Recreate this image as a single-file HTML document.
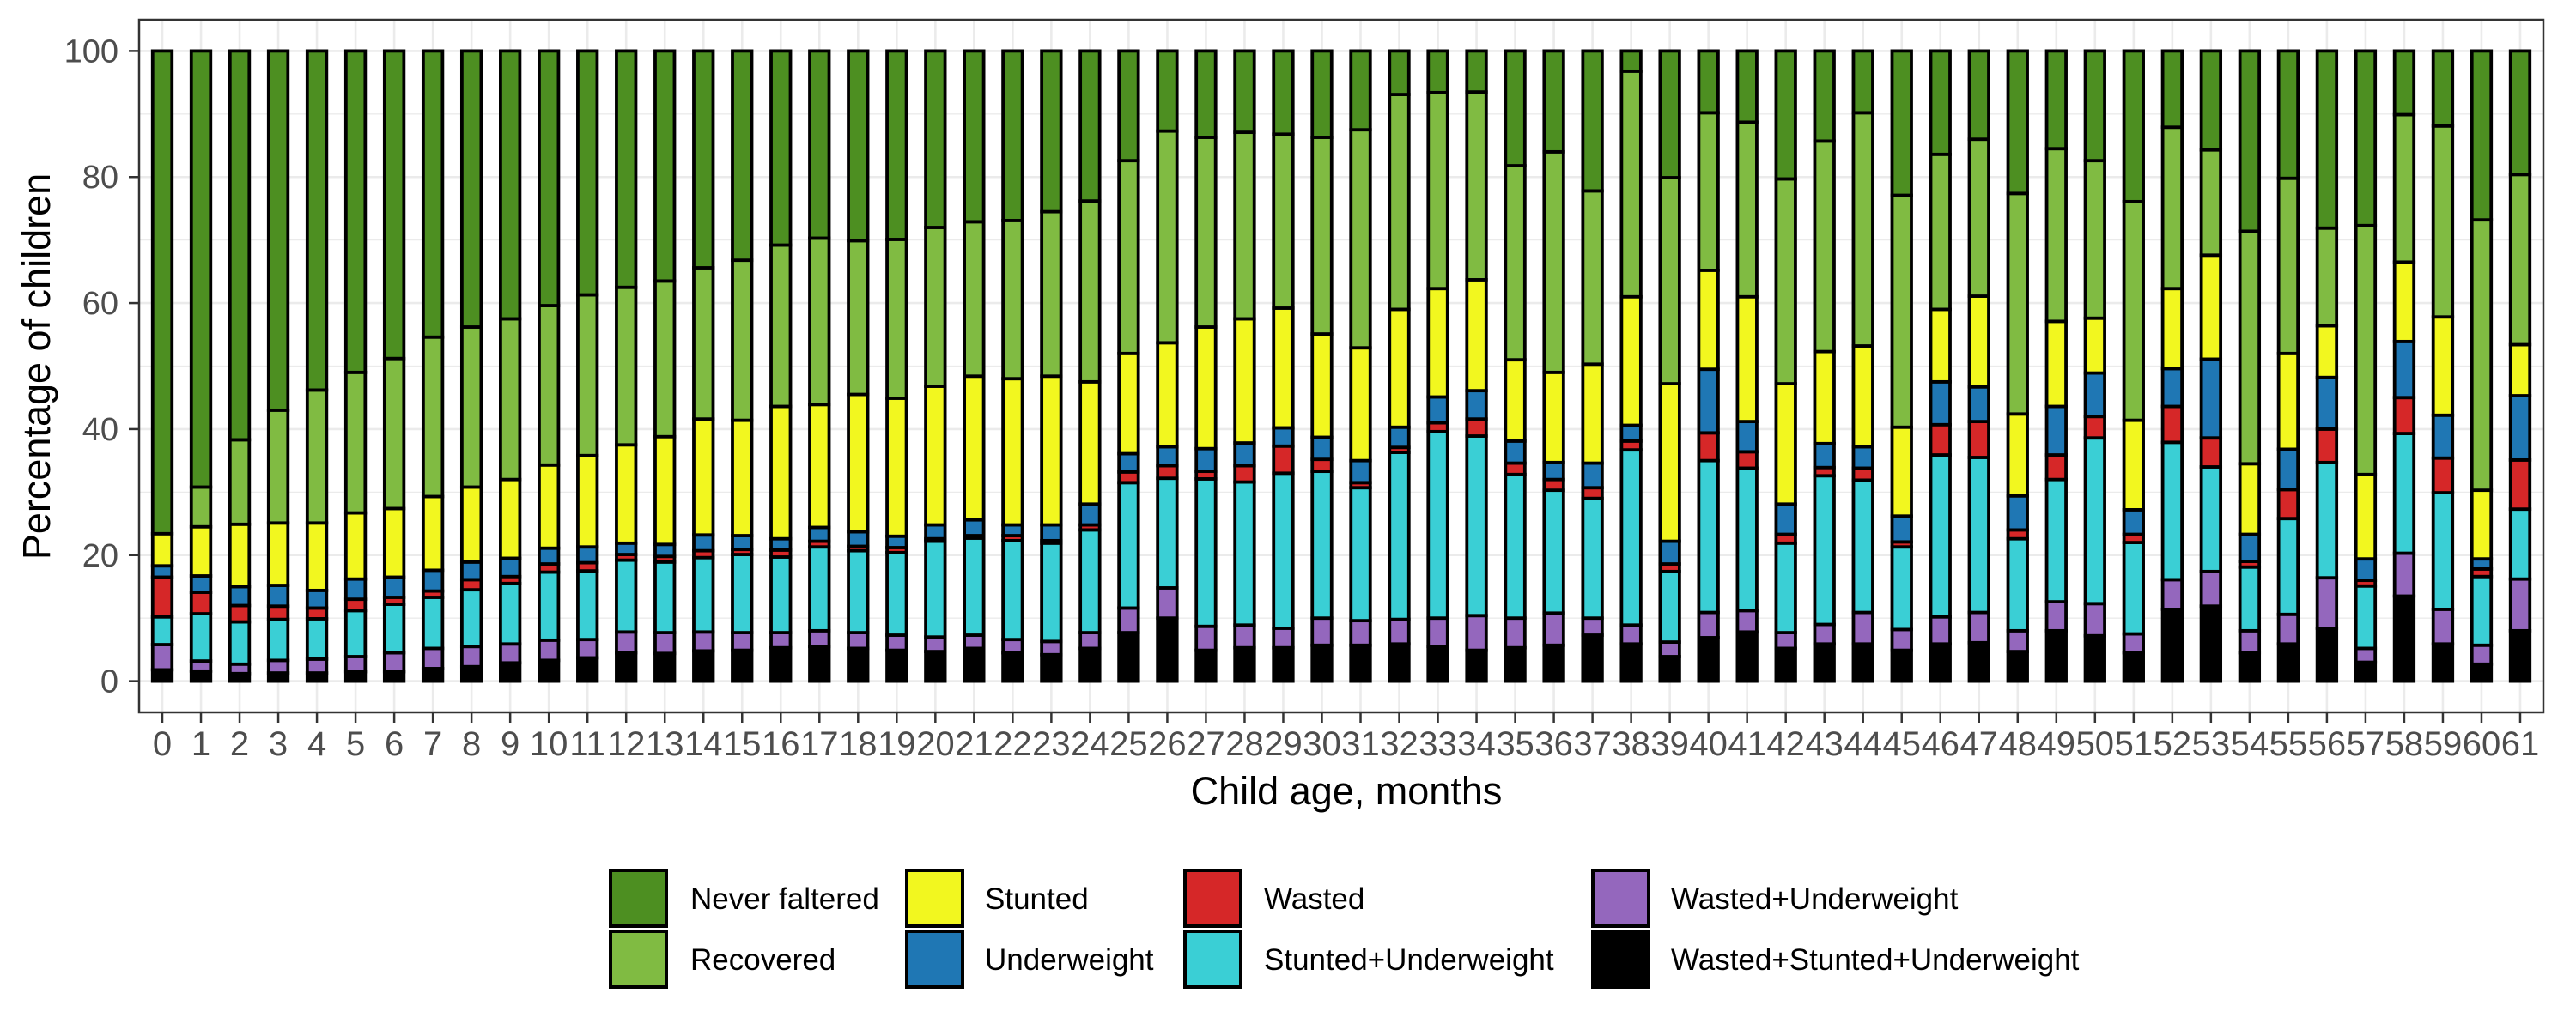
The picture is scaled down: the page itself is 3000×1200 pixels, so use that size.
<!DOCTYPE html>
<html><head><meta charset="utf-8"><title>Growth faltering by child age</title>
<style>
html,body{margin:0;padding:0;background:#fff;}
svg{display:block;font-family:"Liberation Sans",Arial,sans-serif;}
</style></head>
<body>
<svg id="chart" width="3000" height="1200" viewBox="0 0 3000 1200" xmlns="http://www.w3.org/2000/svg">
<rect x="0" y="0" width="3000" height="1200" fill="#fff"/>
<g id="grid"></g>
<g id="bars"></g>
<rect x="162" y="23" width="2800" height="807" fill="none" stroke="#333" stroke-width="2.5"/>
<g id="axes"></g>
<text x="0" y="0" transform="translate(58,427) rotate(-90)" text-anchor="middle" font-size="45" fill="#000">Percentage of children</text>
<text x="1568" y="937" text-anchor="middle" font-size="45" fill="#000">Child age, months</text>
<g id="legend"></g>
</svg>
<script>
const ages = Array.from({length:62},(_,i)=>String(i));
const yTicks = [0,20,40,60,80,100];
const seriesNames = ["Wasted+Stunted+Underweight","Wasted+Underweight","Stunted+Underweight","Wasted","Underweight","Stunted","Recovered","Never faltered"];
const seriesColors = ["#000000","#9467bd","#3acfd5","#d62728","#1f77b4","#f2f71f","#80bb42","#4d8f21"];
const wsu = [1.8,1.6,1.2,1.3,1.3,1.5,1.5,2.0,2.3,2.9,3.3,3.7,4.5,4.4,4.8,4.9,5.3,5.5,5.2,4.9,4.7,5.2,4.5,4.2,5.2,7.7,10.0,4.9,5.3,5.3,5.7,5.7,5.9,5.5,4.9,5.3,5.7,7.3,5.9,3.9,6.9,7.8,5.2,5.9,5.9,4.9,5.9,6.1,4.7,8.0,7.2,4.5,11.4,11.9,4.5,5.9,8.4,3.0,13.5,5.9,2.7,8.0];
const wu = [4.0,1.6,1.5,2.0,2.2,2.4,3.0,3.2,3.2,3.0,3.2,2.9,3.3,3.3,3.0,2.8,2.4,2.5,2.5,2.4,2.3,2.1,2.1,2.1,2.5,3.9,4.8,3.8,3.6,3.1,4.3,3.9,3.9,4.5,5.5,4.7,5.1,2.7,3.0,2.3,4.0,3.4,2.5,3.1,5.0,3.3,4.3,4.8,3.3,4.6,5.1,3.0,4.7,5.5,3.5,4.7,8.0,2.2,6.8,5.5,3.0,8.2];
const su = [4.4,7.5,6.7,6.5,6.4,7.3,7.7,8.1,9.0,9.6,10.8,10.9,11.4,11.2,11.8,12.4,12.0,13.3,13.0,13.1,15.2,15.4,15.7,15.6,16.3,19.9,17.4,23.4,22.7,24.6,23.3,21.1,26.5,29.6,28.5,22.8,19.5,19.0,27.8,11.2,24.1,22.6,14.2,23.6,21.0,13.1,25.7,24.6,14.6,19.4,26.3,14.5,21.8,16.6,10.1,15.2,18.3,9.9,19.0,18.5,10.9,11.1];
const wasted = [6.3,3.4,2.6,2.1,1.7,1.8,1.1,1.0,1.6,1.1,1.3,1.3,0.9,0.9,1.1,0.8,1.1,0.9,0.7,0.8,0.4,0.4,0.8,0.4,0.8,1.7,2.0,1.2,2.6,4.3,1.9,0.8,0.8,1.4,2.7,1.8,1.7,1.7,1.4,1.2,4.4,2.6,1.4,1.3,1.9,0.8,4.8,5.7,1.4,3.9,3.4,1.3,5.7,4.6,0.9,4.6,5.3,0.9,5.7,5.5,1.2,7.8];
const under = [1.8,2.6,3.0,3.3,2.8,3.2,3.2,3.3,2.8,2.9,2.5,2.5,1.8,1.9,2.5,2.2,1.8,2.2,2.3,1.8,2.2,2.5,1.7,2.5,3.3,2.9,3.0,3.6,3.6,2.9,3.5,3.5,3.2,4.1,4.5,3.5,2.7,3.9,2.5,3.6,10.1,4.8,4.8,3.8,3.4,4.1,6.8,5.5,5.4,7.7,6.9,3.9,6.0,12.5,4.3,6.4,8.2,3.4,8.9,6.8,1.6,10.2];
const stunted = [5.1,7.8,9.9,9.9,10.7,10.5,10.9,11.7,11.9,12.5,13.2,14.5,15.6,17.1,18.4,18.3,21.0,19.5,21.8,21.9,22.0,22.8,23.2,23.6,19.4,15.9,16.5,19.3,19.7,19.0,16.4,17.9,18.7,17.2,17.6,12.9,14.3,15.7,20.4,25.0,15.7,19.8,19.1,14.6,16.0,14.1,11.5,14.4,13.0,13.5,8.7,14.2,12.7,16.5,11.2,15.2,8.2,13.4,12.6,15.6,10.9,8.1];
const recovered = [0,6.3,13.4,17.9,21.1,22.3,23.8,25.3,25.4,25.5,25.3,25.5,25.0,24.7,24.0,25.4,25.6,26.4,24.4,25.2,25.2,24.5,25.1,26.1,28.7,30.6,33.6,30.1,29.6,27.6,31.2,34.6,34.1,31.1,29.8,30.8,35.0,27.5,35.8,32.7,25.0,27.7,32.5,33.4,37.0,36.8,24.6,24.9,35.0,27.4,25.0,34.7,25.6,16.7,36.9,27.8,15.5,39.5,23.4,30.3,42.9,27.0];
const never = [76.6,69.2,61.7,57.0,53.8,51.0,48.8,45.4,43.8,42.5,40.4,38.7,37.5,36.5,34.4,33.2,30.8,29.7,30.1,29.9,28.0,27.1,26.9,25.5,23.8,17.4,12.7,13.7,12.9,13.2,13.7,12.5,6.9,6.6,6.5,18.2,16.0,22.2,3.2,20.1,9.8,11.3,20.3,14.3,9.8,22.9,16.4,14.0,22.6,15.5,17.4,23.9,12.1,15.7,28.6,20.2,28.1,27.7,10.1,11.9,26.8,19.6];
const series = [wsu,wu,su,wasted,under,stunted,recovered,never];
const legendOrder = [7,6,5,4,3,2,1,0];

const NS="http://www.w3.org/2000/svg";
const PL=162,PR=2962,PT=23,PB=830;
const Y0=793.6,Y100=59.4;
const yScale=v=>Y0-(Y0-Y100)*v/100;
const step=(PR-PL)/(ages.length+0.2);
const xScale=i=>PL+step*(i+0.6);
const barW=step*0.5;
function mk(tag,attrs,parent){const e=document.createElementNS(NS,tag);for(const k in attrs)e.setAttribute(k,attrs[k]);parent.appendChild(e);return e;}
const grid=document.getElementById('grid'),bars=document.getElementById('bars'),axes=document.getElementById('axes'),legend=document.getElementById('legend');
for(let v=10;v<100;v+=20){const l=mk('line',{x1:PL,x2:PR,y1:yScale(v),y2:yScale(v),stroke:'#ebebeb','stroke-width':1.3},grid);

}
yTicks.forEach(v=>{const l=mk('line',{x1:PL,x2:PR,y1:yScale(v),y2:yScale(v),stroke:'#ebebeb','stroke-width':2.6},grid);


const t=mk('line',{x1:150,x2:PL,y1:yScale(v),y2:yScale(v),stroke:'#333','stroke-width':2.5},axes);


const tx=mk('text',{x:138,y:yScale(v)+13,'text-anchor':'end','font-size':38,fill:'#4d4d4d'},axes);


tx.textContent=v;});
ages.forEach((a,i)=>{const x=xScale(i);
const l=mk('line',{x1:x,x2:x,y1:PT,y2:PB,stroke:'#ebebeb','stroke-width':2.6},grid);


const t=mk('line',{x1:x,x2:x,y1:PB,y2:PB+12,stroke:'#333','stroke-width':2.5},axes);


const tx=mk('text',{x:x,y:PB+50,'text-anchor':'middle','font-size':40,fill:'#4d4d4d'},axes);


tx.textContent=a;
let cum=0;
const g=mk('g',{},bars);


series.forEach((s,k)=>{const v=s[i];const y1=yScale(cum),y2=yScale(cum+v);cum+=v;
const r=mk('rect',{x:x-barW/2,y:y2,width:barW,height:Math.max(0,y1-y2),fill:seriesColors[k],stroke:'#000','stroke-width':3.8},g);

});});
const colKeyX=[709,1054,1378,1853],colTextX=[804,1147,1472,1946],rowY=[1012,1083];
legendOrder.forEach((k,j)=>{const c=Math.floor(j/2),r=j%2;
const g=mk('g',{},legend);


mk('rect',{x:colKeyX[c]+2,y:rowY[r]+2,width:65,height:65,fill:seriesColors[k],stroke:'#000','stroke-width':4},g);
const t=mk('text',{x:colTextX[c],y:rowY[r]+47,'font-size':35,fill:'#000'},g);
t.textContent=seriesNames[k];});
</script>
</body></html>
